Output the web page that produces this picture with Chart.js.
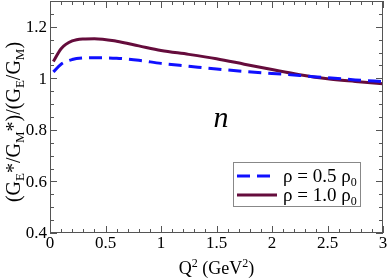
<!DOCTYPE html>
<html>
<head>
<meta charset="utf-8">
<script src="https://cdn.jsdelivr.net/npm/chart.js@4.4.1/dist/chart.umd.min.js"></script>
<style>
  html, body { margin: 0; padding: 0; background: #fff; }
</style>
</head>
<body>
<canvas id="myChart" width="388" height="278"></canvas>
<script>
	// Q^2 (GeV^2) 값
	const q2 = [0.03, 0.1, 0.2, 0.3, 0.4, 0.6, 0.8, 1.0, 1.25, 1.5, 1.75, 2.0, 2.25, 2.5, 2.75, 3.0];
	// rho = 0.5 rho0 (파랑 점선)
	const ratioHalf = [1.025, 1.055, 1.073, 1.079, 1.080, 1.078, 1.070, 1.058, 1.047, 1.036, 1.027, 1.019, 1.011, 1.002, 0.994, 0.987];
	// rho = 1.0 rho0 (보라 실선)
	const ratioFull = [1.065, 1.115, 1.145, 1.153, 1.154, 1.144, 1.126, 1.108, 1.093, 1.076, 1.055, 1.034, 1.014, 0.998, 0.988, 0.979];
	const densities = ['0.5', '1.0'];
	const xTicks = [0, 0.5, 1, 1.5, 2, 2.5, 3];
	const yTicks = [0.4, 0.6, 0.8, 1, 1.2];

	const serif = "'Liberation Serif', serif";
	const axisColor = '#555';
	const blue = '#1010ff';
	const purple = '#650c3c';

	// 축 안쪽 눈금 + 테두리 + 눈금 라벨 + 제목 + 범례
	const decor = {
		id: 'decor',
		afterDraw(chart) {
			const ctx = chart.ctx;
			const a = chart.chartArea;
			const xs = chart.scales.x, ys = chart.scales.y;
			ctx.save();
			ctx.strokeStyle = axisColor;
			ctx.lineWidth = 1;
			ctx.strokeRect(a.left + 0.5, a.top + 0.5, a.right - a.left - 1, a.bottom - a.top - 1);

			ctx.beginPath();
			for (let i = 0; i <= 30; i++) {
				const px = Math.round(xs.getPixelForValue(i / 10)) + 0.5;
				const len = i % 5 === 0 ? 7 : 4;
				ctx.moveTo(px, a.bottom); ctx.lineTo(px, a.bottom - len);
				ctx.moveTo(px, a.top); ctx.lineTo(px, a.top + len);
			}
			for (let i = 0; i <= 18; i++) {
				const v = 0.4 + i * 0.05;
				const py = Math.round(ys.getPixelForValue(v)) + 0.5;
				const len = i % 4 === 0 ? 7 : 4;
				ctx.moveTo(a.left, py); ctx.lineTo(a.left + len, py);
				ctx.moveTo(a.right, py); ctx.lineTo(a.right - len, py);
			}
			ctx.stroke();

			ctx.fillStyle = '#000';
			const big = '18px ' + serif, small = '12px ' + serif;

			// 눈금 라벨
			ctx.font = '17px ' + serif;
			ctx.textAlign = 'center';
			ctx.textBaseline = 'top';
			xs.ticks.forEach(t => ctx.fillText(String(t.value), xs.getPixelForValue(t.value), a.bottom + 2));
			ctx.textAlign = 'right';
			ctx.textBaseline = 'middle';
			ys.ticks.forEach(t => ctx.fillText(String(Math.round(t.value * 10) / 10), a.left - 3, ys.getPixelForValue(t.value) + 1));
			ctx.textAlign = 'left';
			ctx.textBaseline = 'alphabetic';

			// y축 제목 (아래첨자 포함)
			const ySegs = [['(G', 0], ['E', 1], ['*/G', 0], ['M', 1], ['*)/(G', 0], ['E', 1], ['/G', 0], ['M', 1], [')', 0]];
			const yBig = '20px ' + serif, ySmall = '13px ' + serif;
			let total = 0;
			ySegs.forEach(s => { ctx.font = s[1] ? ySmall : yBig; total += ctx.measureText(s[0]).width; });
			ctx.save();
			ctx.translate(20, (a.top + a.bottom) / 2 + 5);
			ctx.rotate(-Math.PI / 2);
			let cx = -total / 2;
			ySegs.forEach(s => {
				ctx.font = s[1] ? ySmall : yBig;
				ctx.fillText(s[0], cx, s[1] ? 4 : 0);
				cx += ctx.measureText(s[0]).width;
			});
			ctx.restore();

			// x축 제목 (위첨자 포함)
			const xSegs = [['Q', 0], ['2', 1], [' (GeV', 0], ['2', 1], [')', 0]];
			total = 0;
			xSegs.forEach(s => { ctx.font = s[1] ? small : big; total += ctx.measureText(s[0]).width; });
			cx = (a.left + a.right) / 2 - total / 2;
			xSegs.forEach(s => {
				ctx.font = s[1] ? small : big;
				ctx.fillText(s[0], cx, s[1] ? 267 : 274);
				cx += ctx.measureText(s[0]).width;
			});

			// n 표시
			ctx.font = 'italic 30px ' + serif;
			ctx.textAlign = 'center';
			ctx.fillText('n', 221, 127);
			ctx.textAlign = 'left';

			// 범례
			ctx.strokeStyle = '#888';
			ctx.strokeRect(233.5, 162.5, 127, 44);
			const rows = [[blue, [13, 7], 176], [purple, [], 195]];
			rows.forEach((r, i) => {
				ctx.beginPath();
				ctx.strokeStyle = r[0];
				ctx.lineWidth = 3;
				ctx.setLineDash(r[1]);
				ctx.moveTo(237, r[2]); ctx.lineTo(277, r[2]);
				ctx.stroke();
				ctx.setLineDash([]);
				ctx.font = '19px ' + serif;
				const txt = 'ρ = ' + densities[i] + ' ρ';
				ctx.fillText(txt, 283, r[2] + 6);
				const w = ctx.measureText(txt).width;
				ctx.font = small;
				ctx.fillText('0', 283 + w, r[2] + 10);
			});
			ctx.restore();
		}
	};

	const ctx = document.querySelector('#myChart');
	const ratioChart = new Chart(ctx, {
		type: 'line',
		data: {
			datasets: [
				{
					label: 'ρ = 0.5 ρ0',
					data: q2.map((x, i) => ({ x: x, y: ratioHalf[i] })),
					borderColor: blue,
					borderWidth: 3,
					borderDash: [13, 7],
					pointRadius: 0,
					cubicInterpolationMode: 'monotone'
				},
				{
					label: 'ρ = 1.0 ρ0',
					data: q2.map((x, i) => ({ x: x, y: ratioFull[i] })),
					borderColor: purple,
					borderWidth: 3,
					pointRadius: 0,
					cubicInterpolationMode: 'monotone'
				}
			]
		},
		options: {
			responsive: false,
			devicePixelRatio: 1,
			animation: false,
			layout: { padding: { top: 1, right: 5, left: 0, bottom: 0 } },
			plugins: { legend: { display: false }, tooltip: { enabled: false } },
			scales: {
				x: {
					type: 'linear',
					min: 0, max: 3,
					grid: { display: false, drawTicks: false },
					border: { display: false },
					afterFit: s => { s.height = 45; },
					afterBuildTicks: s => { s.ticks = xTicks.map(v => ({ value: v })); },
					ticks: { display: false }
				},
				y: {
					min: 0.4, max: 1.3,
					grid: { display: false, drawTicks: false },
					border: { display: false },
					afterFit: s => { s.width = 50; },
					afterBuildTicks: s => { s.ticks = yTicks.map(v => ({ value: v })); },
					ticks: { display: false }
				}
			}
		},
		plugins: [decor]
	});
</script>
</body>
</html>
